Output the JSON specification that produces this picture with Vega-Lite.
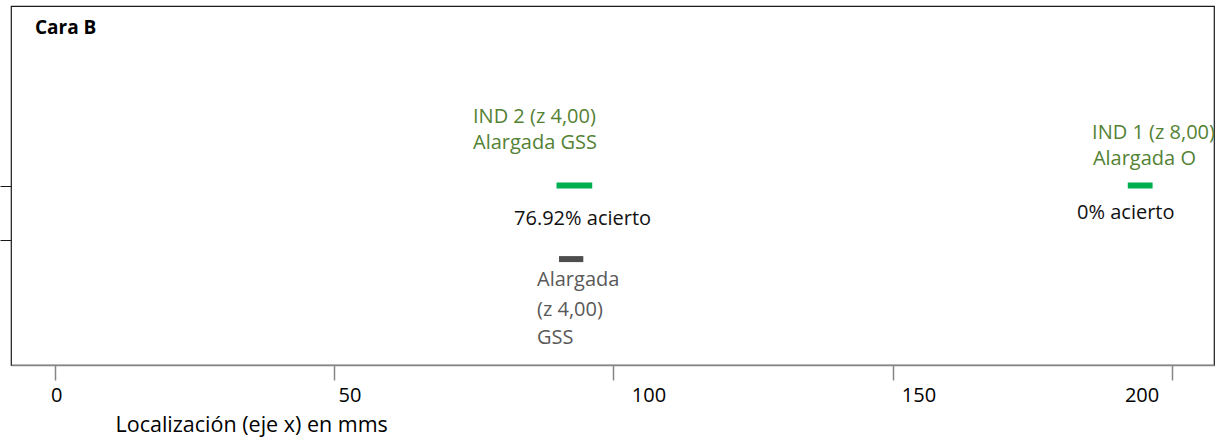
{
  "$schema": "https://vega.github.io/schema/vega-lite/v6.json",
  "width": 1203,
  "height": 359,
  "autosize": {"type": "none"},
  "padding": {"left": 11, "top": 6, "right": 5, "bottom": 73},
  "background": "white",
  "config": {"view": {"stroke": "#1a1a1a", "strokeWidth": 1.2}, "font": "Open Sans"},
  "title": {
    "text": "Cara B",
    "anchor": "start",
    "orient": "top",
    "frame": "group",
    "dx": 24,
    "dy": 25,
    "offset": -22,
    "baseline": "alphabetic",
    "font": "Open Sans",
    "fontSize": 19,
    "fontWeight": "bold",
    "color": "#000000"
  },
  "datasets": {
    "barras": [
      {"tipo": "barraInd", "inicio": 89.8, "fin": 96.2, "nivel": 5.0},
      {"tipo": "barraEst", "inicio": 90.25, "fin": 94.6, "nivel": 2.95},
      {"tipo": "barraInd", "inicio": 192.15, "fin": 196.6, "nivel": 5.0}
    ],
    "textos": [
      {"tipo": "textoInd", "texto": "IND 2 (z 4,00)", "x": 74.84, "y": 6.741},
      {"tipo": "textoInd", "texto": "Alargada GSS", "x": 74.84, "y": 6.017},
      {"tipo": "textoAcierto", "texto": "76.92% acierto", "x": 82.19, "y": 3.9},
      {"tipo": "textoEst", "texto": "Alargada", "x": 86.31, "y": 2.201},
      {"tipo": "textoEst", "texto": "(z 4,00)", "x": 86.31, "y": 1.365},
      {"tipo": "textoEst", "texto": "GSS", "x": 86.31, "y": 0.585},
      {"tipo": "textoInd", "texto": "IND 1 (z 8,00)", "x": 185.76, "y": 6.295},
      {"tipo": "textoInd", "texto": "Alargada O", "x": 185.9, "y": 5.571},
      {"tipo": "textoAcierto", "texto": "0% acierto", "x": 183.06, "y": 4.067}
    ]
  },
  "layer": [
    {
      "data": {"name": "barras"},
      "mark": {"type": "rule", "strokeWidth": 6, "strokeCap": "butt"},
      "encoding": {
        "x": {
          "field": "inicio",
          "type": "quantitative",
          "scale": {"domain": [-7.94, 207.6], "nice": false, "zero": false},
          "axis": {
            "values": [0, 50, 100, 150, 200],
            "grid": false,
            "title": "Localización (eje x) en mms",
            "titleFont": "Open Sans",
            "titleFontSize": 21.5,
            "titleFontWeight": "normal",
            "titleColor": "#000000",
            "titleX": 104,
            "titleY": 66,
            "titleAlign": "left",
            "titleAnchor": "start",
            "titleBaseline": "alphabetic",
            "domainColor": "#868686",
            "domainWidth": 1.5,
            "tickColor": "#868686",
            "tickWidth": 1.5,
            "tickSize": 15,
            "labelFont": "Open Sans",
            "labelFontSize": 20,
            "labelColor": "#000000",
            "labelBaseline": "alphabetic",
            "labelPadding": 21,
            "labelFlush": false,
            "labelOverlap": false,
            "labelOffset": {
              "condition": [
                {"test": "datum.value === 50", "value": 15},
                {"test": "datum.value === 100", "value": 35},
                {"test": "datum.value === 150", "value": 26},
                {"test": "datum.value === 200", "value": -30}
              ],
              "value": 1
            }
          }
        },
        "x2": {"field": "fin"},
        "y": {
          "field": "nivel",
          "type": "quantitative",
          "scale": {"domain": [0, 10], "nice": false, "zero": false},
          "axis": {
            "values": [4.986, 3.482],
            "labels": false,
            "domain": false,
            "ticks": true,
            "tickSize": 11,
            "tickColor": "#1a1a1a",
            "tickWidth": 1,
            "grid": false,
            "title": null
          }
        },
        "color": {
          "field": "tipo",
          "type": "nominal",
          "scale": {
            "domain": ["barraInd", "barraEst", "textoInd", "textoEst", "textoAcierto"],
            "range": ["#00B050", "#4D4D4D", "#548235", "#595959", "#111111"]
          },
          "legend": null
        }
      }
    },
    {
      "data": {"name": "textos"},
      "mark": {"type": "text", "align": "left", "baseline": "alphabetic", "fontSize": 20, "font": "Open Sans"},
      "encoding": {
        "x": {"field": "x", "type": "quantitative"},
        "y": {"field": "y", "type": "quantitative"},
        "text": {"field": "texto"},
        "color": {"field": "tipo", "type": "nominal"}
      }
    }
  ]
}
